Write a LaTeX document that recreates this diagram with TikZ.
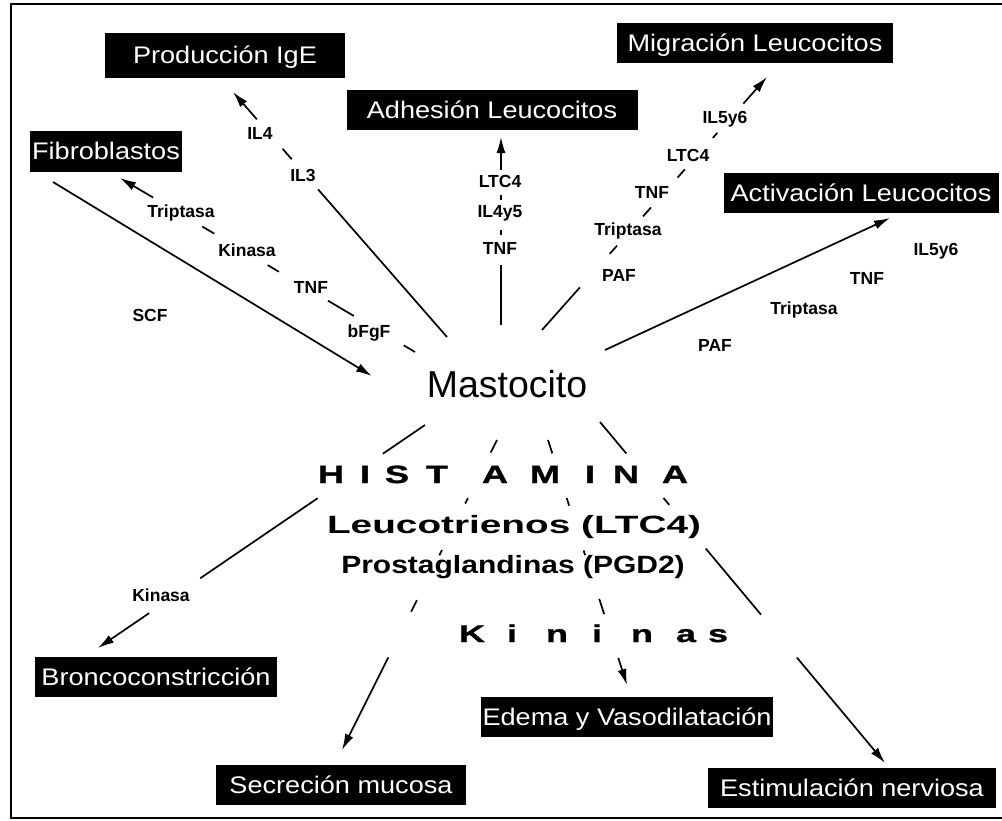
\documentclass[tikz,border=0pt]{standalone}
\usepackage{fontspec}
\setmainfont{Liberation Sans}
\newfontfamily\boxfont[FakeStretch=1.13]{Liberation Sans}
\newfontfamily\histfont[FakeStretch=1.45, FakeBold=1.2]{Liberation Sans Bold}
\newfontfamily\leucofont[FakeStretch=1.55]{Liberation Sans Bold}
\newfontfamily\prostfont[FakeStretch=1.2]{Liberation Sans Bold}
\newfontfamily\kinfont[FakeStretch=1.5, FakeBold=1.2]{Liberation Sans Bold}
\usetikzlibrary{arrows.meta}

\begin{document}
\begin{tikzpicture}[
x=1pt, y=-1pt,
effectbox/.style={fill=black, text=white, font=\boxfont\fontsize{24}{28}\selectfont, minimum height=40pt, inner sep=0pt, text height=17pt, text depth=0pt},
lbl/.style={font=\bfseries\fontsize{17.5}{20}\selectfont, inner sep=0pt, text height=12.5pt, text depth=0pt},
medi/.style={inner sep=0pt, text height=18pt, text depth=0pt},
conn/.style={line width=1.7pt, -{Latex[length=16pt,width=9pt]}}
]
\useasboundingbox (0,0) rectangle (1002,820);
\draw[line width=2.2pt] (1002,4) -- (11,4) -- (11,818) -- (1002,818);

%Nodes
\node[font=\fontsize{37.5}{40}\selectfont, inner sep=0pt, text height=27pt, text depth=0pt] (mast) at (507,383.5) {Mastocito};
\node[effectbox, minimum width=240pt, minimum height=45pt] (ige) at (225,55) {Producción IgE};
\node[effectbox, minimum width=152pt, minimum height=41pt] (fib) at (106,151) {Fibroblastos};
\node[effectbox, minimum width=291pt] (adh) at (492,110) {Adhesión Leucocitos};
\node[effectbox, minimum width=276pt] (mig) at (755,43) {Migración Leucocitos};
\node[effectbox, minimum width=275pt] (act) at (861,193) {Activación Leucocitos};
\node[effectbox, minimum width=242pt] (bro) at (156,677) {Broncoconstricción};
\node[effectbox, minimum width=250pt] (sec) at (341,785) {Secreción mucosa};
\node[effectbox, minimum width=292pt] (ede) at (627,717) {Edema y Vasodilatación};
\node[effectbox, minimum width=288pt] (est) at (852,788) {Estimulación nerviosa};

%Mediators
\foreach \ch/\x [count=\k] in {H/331, I/365, S/397, T/437, A/495, M/545, I/590, N/626, A/675}
  \node[medi, font=\histfont\fontsize{25}{28}\selectfont] (hist\k) at (\x,474) {\ch};
\node[medi, font=\leucofont\fontsize{25}{28}\selectfont] (leu) at (514,524) {Leucotrienos (LTC4)};
\node[medi, font=\prostfont\fontsize{25}{28}\selectfont] (pro) at (513,564) {Prostaglandinas (PGD2)};
\foreach \ch/\x [count=\k] in {K/472, i/512, n/557, i/597, n/642, a/686, s/718}
  \node[medi, font=\kinfont\fontsize{24}{27}\selectfont, text height=17pt] (kin\k) at (\x,633.5) {\ch};

%Labels
\foreach \nm/\x/\y/\txt in {% name/x/y/text
      fa/181/211/Triptasa, fb/247/250/Kinasa, fc/311/287/TNF, fd/369/331/bFgF,
      scf/150/315/SCF,
      ia/260/133/IL4, ib/303/175/IL3,
      aa/500/181/LTC4, ab/500/211/IL4y5, ac/500/248/TNF,
      ma/725/117/IL5y6, mb/688/155/LTC4, mc/652/192/TNF, md/628/229/Triptasa, me/619/275/PAF,
      va/936/249/IL5y6, vb/867/278/TNF, vc/804/308/Triptasa, vd/715/345/PAF,
      ka/161/595/Kinasa}
  \node[lbl] (\nm) at (\x,\y) {\txt};

%Line ends
\coordinate (m-fib) at (415,352);  \coordinate (t-fib) at (120,178);
\coordinate (f-scf) at (53,182);   \coordinate (t-scf) at (372,376);
\coordinate (m-ige) at (447,337);  \coordinate (t-ige) at (233,92);
\coordinate (m-adh) at (501,325);  \coordinate (t-adh) at (501,137);
\coordinate (m-mig) at (542,330);  \coordinate (t-mig) at (767,77);
\coordinate (m-act) at (605,350);  \coordinate (t-act) at (890,218);
\coordinate (m-bro) at (425,425);  \coordinate (t-bro) at (98,648);
\coordinate (m-sec) at (497,440);  \coordinate (t-sec) at (342,750);
\coordinate (m-ede) at (548,440);  \coordinate (t-ede) at (627,685);
\coordinate (m-est) at (600,422);  \coordinate (t-est) at (885,763);

%Connectors
\draw[conn, dash pattern=on 13pt off 58pt on 30pt off 57pt on 13pt off 62pt on 14pt off 57pt on 80pt off 10pt] (m-fib) -- (t-fib);
\draw[conn] (f-scf) -- (t-scf);
\draw[conn, dash pattern=on 196pt off 40pt on 14pt off 39pt on 80pt off 10pt] (m-ige) -- (t-ige);
\draw[conn, dash pattern=on 60pt off 30pt on 5pt off 30pt on 5pt off 25pt on 80pt off 10pt] (m-adh) -- (t-adh);
\draw[conn, dash pattern=on 57pt off 45pt on 11pt off 39pt on 12pt off 40pt on 11pt off 42pt on 7pt off 39pt on 80pt off 10pt] (m-mig) -- (t-mig);
\draw[conn] (m-act) -- (t-act);
\draw[conn, dash pattern=on 51pt off 79pt on 142pt off 62pt on 100pt off 10pt] (m-bro) -- (t-bro);
\draw[conn, dash pattern=on 14pt off 51pt on 6pt off 52pt on 6pt off 50pt on 13pt off 51pt on 150pt off 10pt] (m-sec) -- (t-sec);
\draw[conn, dash pattern=on 14pt off 47pt on 8pt off 47pt on 5pt off 46pt on 16pt off 46pt on 80pt off 10pt] (m-ede) -- (t-ede);
\draw[conn, dash pattern=on 41pt off 58pt on 9pt off 57pt on 86pt off 56pt on 180pt off 10pt] (m-est) -- (t-est);
\end{tikzpicture}
\end{document}
